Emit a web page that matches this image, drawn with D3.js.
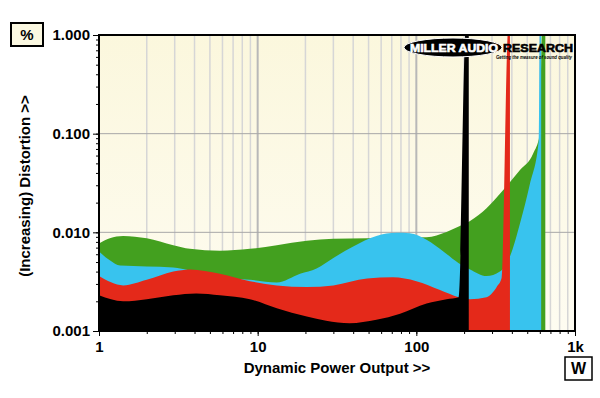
<!DOCTYPE html>
<html lang="en">
<head>
<meta charset="UTF-8"/>
<title>Dynamic Power Output vs Distortion</title>
<script src="https://d3js.org/d3.v7.min.js"></script>
<style>
    body { margin: 0; background: #fff; }
    text { font-family: Arial, "Liberation Sans", sans-serif; font-weight: bold; fill: #000; }
    .axis path { display: none; }
    .axis line { stroke: #000; stroke-width: 1px; }
</style>
</head>
<body>
<div id="chart"></div>
<script>
// tick labels
const xTickValues = [1, 10, 100, 1000];
const xTickLabels = ["1", "10", "100", "1k"];
const yTickValues = [1, 0.1, 0.01, 0.001];
const yTickLabels = ["1.000", "0.100", "0.010", "0.001"];

// series (power in W, distortion in %)
const greenW   = [1, 1.17, 1.42, 2, 2.94, 3.74, 5.78, 8.94, 13.2, 20.4, 30, 49, 80, 116, 155, 188, 218, 277, 353, 450, 545, 600, 620, 650];
const greenPct = [0.0077, 0.0087, 0.0092, 0.0087, 0.0074, 0.0068, 0.0065, 0.0068, 0.0074, 0.0082, 0.0086, 0.0087, 0.0088, 0.0089, 0.0101, 0.0116, 0.013, 0.0175, 0.0268, 0.0428, 0.063, 0.1, 1.2, 1.2];

const cyanW   = [1, 1.17, 1.36, 2, 2.94, 3.74, 5.5, 8.94, 13.2, 18.5, 23.5, 30, 40, 56, 75, 91, 116, 148, 184, 218, 277, 336, 389, 450, 520, 592, 600, 612];
const cyanPct = [0.0064, 0.0052, 0.0046, 0.0045, 0.0044, 0.0041, 0.0035, 0.0033, 0.0031, 0.0038, 0.0043, 0.0055, 0.0072, 0.0092, 0.0099, 0.0098, 0.0084, 0.0064, 0.0049, 0.0042, 0.0036, 0.004, 0.0057, 0.0123, 0.031, 0.088, 1.2, 1.2];

const redW   = [1, 1.42, 2, 2.94, 3.74, 5.78, 8.94, 13.2, 20.4, 30, 49, 71, 100, 141, 185, 218, 277, 321, 344, 380, 389];
const redPct = [0.0036, 0.0029, 0.0033, 0.004, 0.0042, 0.0038, 0.0032, 0.0029, 0.0028, 0.0029, 0.0034, 0.0035, 0.0032, 0.0026, 0.0022, 0.0021, 0.0022, 0.0028, 0.0034, 1.2, 1.2];

const blackW   = [1, 1.42, 2, 2.94, 4.1, 5.78, 8.94, 13.2, 20.4, 27, 38, 56, 79, 116, 155, 185, 205, 214];
const blackPct = [0.0023, 0.002, 0.0021, 0.0023, 0.0024, 0.0023, 0.0021, 0.0017, 0.0014, 0.00127, 0.0012, 0.0013, 0.0015, 0.0019, 0.0021, 0.0022, 1.2, 1.2];

const series = [
    {name: "green", color: "#43a01f", w: greenW, pct: greenPct},
    {name: "cyan",  color: "#38c3ee", w: cyanW,  pct: cyanPct},
    {name: "red",   color: "#e4291a", w: redW,   pct: redPct},
    {name: "black", color: "#000000", w: blackW, pct: blackPct}
];

const W = 600, H = 398;
const margin = {top: 35, right: 25, bottom: 67, left: 99};
const width = W - margin.left - margin.right;
const height = H - margin.top - margin.bottom;

const svg = d3.select("#chart").append("svg")
    .attr("width", W)
    .attr("height", H);

const defs = svg.append("defs");
const grad = defs.append("linearGradient")
    .attr("id", "bg").attr("x1", 0).attr("y1", 0).attr("x2", 0).attr("y2", 1);
grad.append("stop").attr("offset", "0%").attr("stop-color", "#fbf7dd");
grad.append("stop").attr("offset", "100%").attr("stop-color", "#fefcf1");
defs.append("clipPath").attr("id", "clip")
    .append("rect").attr("width", width).attr("height", height);

const g = svg.append("g")
    .attr("transform", "translate(" + margin.left + "," + margin.top + ")");

const x = d3.scaleLog().domain([1, 1000]).range([0, width]);
const y = d3.scaleLog().domain([0.001, 1]).range([height, 0]);

// background
g.append("rect").attr("width", width).attr("height", height).attr("fill", "url(#bg)");

// vertical grid at every minor tick
const xMinor = x.ticks();
g.append("g").selectAll("line")
    .data(xMinor.filter(d => d > 1 && d < 1000))
    .enter().append("line")
    .attr("x1", d => x(d)).attr("x2", d => x(d))
    .attr("y1", 0).attr("y2", height)
    .attr("stroke", d => xTickValues.includes(d) ? "#b8b8b8" : "#d6d6d6")
    .attr("stroke-width", d => xTickValues.includes(d) ? 2 : 1.5);

// horizontal grid at decades
g.append("g").selectAll("line")
    .data([0.01, 0.1])
    .enter().append("line")
    .attr("x1", 0).attr("x2", width)
    .attr("y1", d => y(d)).attr("y2", d => y(d))
    .attr("stroke", "#a8a8a8").attr("stroke-width", 1);

// areas, back to front
const plot = g.append("g").attr("clip-path", "url(#clip)");
series.forEach(function(s) {
    const pts = s.w.map((w, i) => ({w: w, p: s.pct[i]}));
    plot.append("path")
        .datum(pts)
        .attr("fill", s.color)
        .attr("d", d3.area()
            .x(d => x(d.w))
            .y0(height)
            .y1(d => y(d.p))
            .curve(d3.curveMonotoneX));
});

// frame
g.append("rect").attr("width", width).attr("height", height)
    .attr("fill", "none").attr("stroke", "#000").attr("stroke-width", 2);

// axes
const yMinor = y.ticks();
g.append("g").attr("class", "axis")
    .call(d3.axisLeft(y).tickValues(yMinor).tickSize(3).tickFormat(""));
g.append("g").attr("class", "axis")
    .call(d3.axisLeft(y).tickValues(yTickValues).tickSize(6).tickPadding(3)
        .tickFormat((d, i) => yTickLabels[i]))
    .selectAll("text").style("font-size", "15px");

g.append("g").attr("class", "axis")
    .attr("transform", "translate(0," + height + ")")
    .call(d3.axisBottom(x).tickValues(xMinor).tickSize(3).tickFormat(""));
g.append("g").attr("class", "axis")
    .attr("transform", "translate(0," + height + ")")
    .call(d3.axisBottom(x).tickValues(xTickValues).tickSize(5).tickPadding(5)
        .tickFormat((d, i) => xTickLabels[i]))
    .selectAll("text").style("font-size", "15px");

// titles
svg.append("text")
    .attr("x", 337).attr("y", 373)
    .attr("text-anchor", "middle")
    .style("font-size", "15px")
    .text("Dynamic Power Output >>");
svg.append("text")
    .attr("transform", "translate(30,186) rotate(-90)")
    .attr("text-anchor", "middle")
    .style("font-size", "15px")
    .text("(Increasing) Distortion >>");

// unit boxes
svg.append("rect").attr("x", 11).attr("y", 23).attr("width", 32).attr("height", 23)
    .attr("fill", "#fbf8e1").attr("stroke", "#000").attr("stroke-width", 2);
svg.append("text").attr("x", 27).attr("y", 40).attr("text-anchor", "middle")
    .style("font-size", "15px").text("%");
svg.append("rect").attr("x", 565).attr("y", 357).attr("width", 27).attr("height", 23)
    .attr("fill", "#fff").attr("stroke", "#000").attr("stroke-width", 1.5);
svg.append("text").attr("x", 578.5).attr("y", 374).attr("text-anchor", "middle")
    .style("font-size", "16px").text("W");

// logo
const logo = svg.append("g");
logo.append("ellipse").attr("cx", 453).attr("cy", 47.5).attr("rx", 49).attr("ry", 9.5)
    .attr("fill", "#000").attr("stroke", "#fff").attr("stroke-width", 1);
logo.append("text").attr("x", 410).attr("y", 52)
    .attr("textLength", 88).attr("lengthAdjust", "spacingAndGlyphs")
    .style("font-size", "11px").style("fill", "#fff")
    .style("stroke", "#fff").style("stroke-width", 0.6)
    .text("MILLER AUDIO");
logo.append("text").attr("x", 503).attr("y", 52)
    .attr("textLength", 70).attr("lengthAdjust", "spacingAndGlyphs")
    .style("font-size", "11px")
    .style("stroke", "#000").style("stroke-width", 0.6)
    .text("RESEARCH");
logo.append("text").attr("x", 496).attr("y", 59)
    .attr("textLength", 76).attr("lengthAdjust", "spacingAndGlyphs")
    .style("font-size", "5.5px").style("font-style", "italic")
    .text("Getting the measure of sound quality");
</script>
</body>
</html>
